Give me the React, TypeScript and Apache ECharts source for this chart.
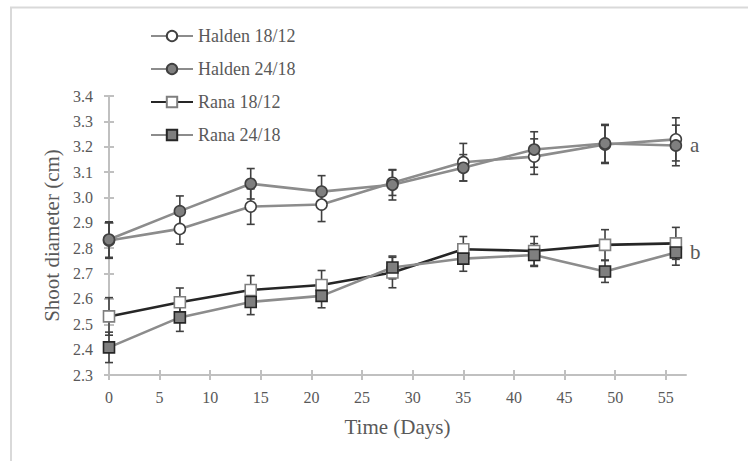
import React, { useEffect, useRef } from "react";
import * as echarts from "echarts";

const days = [0, 7, 14, 21, 28, 35, 42, 49, 56];
const halden1812 = [2.83, 2.876, 2.964, 2.972, 3.058, 3.139, 3.161, 3.209, 3.229];
const halden2418 = [2.834, 2.946, 3.054, 3.023, 3.05, 3.117, 3.189, 3.213, 3.205];
const rana1812 = [2.531, 2.587, 2.635, 2.655, 2.704, 2.796, 2.789, 2.813, 2.819];
const rana2418 = [2.409, 2.527, 2.588, 2.612, 2.724, 2.759, 2.773, 2.708, 2.783];
const halden1812Err = [0.07, 0.06, 0.07, 0.067, 0.05, 0.074, 0.07, 0.075, 0.085];
const halden2418Err = [0.07, 0.06, 0.06, 0.063, 0.06, 0.052, 0.07, 0.075, 0.08];
const rana1812Err = [0.074, 0.056, 0.057, 0.057, 0.06, 0.05, 0.057, 0.06, 0.063];
const rana2418Err = [0.06, 0.055, 0.05, 0.047, 0.045, 0.05, 0.045, 0.043, 0.05];
const seriesNames = ["Halden 18/12", "Halden 24/18", "Rana 18/12", "Rana 24/18"];
const groupLetters = ["a", "b"];
const xTicks = [0, 5, 10, 15, 20, 25, 30, 35, 40, 45, 50, 55];

const FONT = "Liberation Serif";
const TEXT = "#595959";
const AXIS = "#c0c0c0";

function errData(vals: number[], errs: number[]) {
  return days.map((d, i) => [d, vals[i], errs[i]]);
}

function errorSeries(vals: number[], errs: number[]) {
  return {
    type: "custom",
    z: 1,
    silent: true,
    encode: { x: 0, y: 1 },
    data: errData(vals, errs),
    renderItem: (params: any, api: any) => {
      const x = api.value(0);
      const y = api.value(1);
      const e = api.value(2);
      const top = api.coord([x, y + e]);
      const bot = api.coord([x, y - e]);
      const hw = 4;
      const style = { stroke: "#404040", lineWidth: 1.6 };
      return {
        type: "group",
        children: [
          { type: "line", shape: { x1: top[0], y1: top[1], x2: bot[0], y2: bot[1] }, style },
          { type: "line", shape: { x1: top[0] - hw, y1: top[1], x2: top[0] + hw, y2: top[1] }, style },
          { type: "line", shape: { x1: bot[0] - hw, y1: bot[1], x2: bot[0] + hw, y2: bot[1] }, style },
        ],
      };
    },
  };
}

function lineSeries(
  name: string,
  vals: number[],
  lineColor: string,
  symbol: string,
  fill: string,
  border: string,
  letter?: string
) {
  return {
    type: "line",
    name,
    z: 3,
    data: days.map((d, i) => [d, vals[i]]),
    symbol,
    symbolSize: 11,
    showAllSymbol: true,
    lineStyle: { color: lineColor, width: 2.6 },
    itemStyle: { color: fill, borderColor: border, borderWidth: 1.6 },
    emphasis: { disabled: true },
    endLabel: letter
      ? {
          show: true,
          formatter: letter,
          distance: 14,
          fontFamily: FONT,
          fontSize: 21,
          color: TEXT,
        }
      : { show: false },
  };
}

export default function App() {
  const ref = useRef<HTMLDivElement>(null);
  useEffect(() => {
    if (!ref.current) return;
    const chart = echarts.init(ref.current, undefined, { renderer: "svg" });
    const baseX = {
      type: "value",
      min: 0,
      max: 57,
      interval: 5,
      gridIndex: 0,
      position: "bottom",
      splitLine: { show: false },
    };
    const baseY = {
      type: "value",
      min: 2.3,
      max: 3.4,
      interval: 0.1,
      gridIndex: 0,
      position: "left",
      splitLine: { show: false },
    };
    chart.setOption({
      animation: false,
      textStyle: { fontFamily: FONT },
      graphic: [
        {
          type: "rect",
          shape: { x: 11, y: 7.5, width: 800, height: 600 },
          style: { fill: "none", stroke: "#d9d9d9", lineWidth: 2 },
          silent: true,
        },
      ],
      grid: { left: 109, top: 96, width: 577, height: 279, containLabel: false },
      legend: {
        orient: "vertical",
        left: 150,
        top: 27,
        padding: 0,
        itemWidth: 42,
        itemHeight: 13,
        itemGap: 15,
        data: seriesNames,
        textStyle: { fontFamily: FONT, fontSize: 18, color: TEXT, lineHeight: 18 },
        selectedMode: false,
      },
      xAxis: [
        {
          ...baseX,
          name: "Time (Days)",
          nameLocation: "middle",
          nameGap: 41,
          nameTextStyle: { fontFamily: FONT, fontSize: 21, color: TEXT },
          axisLine: { show: true, lineStyle: { color: AXIS, width: 2 } },
          axisTick: { show: true, length: 5, customValues: xTicks, lineStyle: { color: AXIS, width: 2 } },
          axisLabel: {
            customValues: xTicks,
            margin: 14,
            fontFamily: FONT,
            fontSize: 16,
            color: TEXT,
          },
        },
        {
          ...baseX,
          axisLine: { show: false },
          axisTick: { show: true, inside: true, length: 5, customValues: xTicks, lineStyle: { color: AXIS, width: 2 } },
          axisLabel: { show: false },
        },
      ],
      yAxis: [
        {
          ...baseY,
          name: "Shoot diameter (cm)",
          nameLocation: "middle",
          nameGap: 47,
          nameTextStyle: { fontFamily: FONT, fontSize: 21, color: TEXT },
          axisLine: { show: true, lineStyle: { color: AXIS, width: 2 } },
          axisTick: { show: true, length: 5, lineStyle: { color: AXIS, width: 2 } },
          axisLabel: {
            margin: 16,
            fontFamily: FONT,
            fontSize: 16,
            color: TEXT,
            formatter: (v: number) => v.toFixed(1),
          },
        },
        {
          ...baseY,
          axisLine: { show: false },
          axisTick: { show: true, inside: true, length: 5, lineStyle: { color: AXIS, width: 2 } },
          axisLabel: { show: false },
        },
      ],
      series: [
        errorSeries(halden1812, halden1812Err),
        errorSeries(halden2418, halden2418Err),
        errorSeries(rana1812, rana1812Err),
        errorSeries(rana2418, rana2418Err),
        lineSeries(seriesNames[0], halden1812, "#8c8c8c", "circle", "#ffffff", "#404040"),
        lineSeries(seriesNames[1], halden2418, "#8c8c8c", "circle", "#7f7f7f", "#404040", groupLetters[0]),
        lineSeries(seriesNames[2], rana1812, "#262626", "rect", "#ffffff", "#7f7f7f"),
        lineSeries(seriesNames[3], rana2418, "#8c8c8c", "rect", "#7f7f7f", "#262626", groupLetters[1]),
      ],
    });
    return () => chart.dispose();
  }, []);
  return (
    <div
      ref={ref}
      style={{ position: "fixed", left: 0, top: 0, width: 748, height: 461, background: "#ffffff" }}
    />
  );
}
